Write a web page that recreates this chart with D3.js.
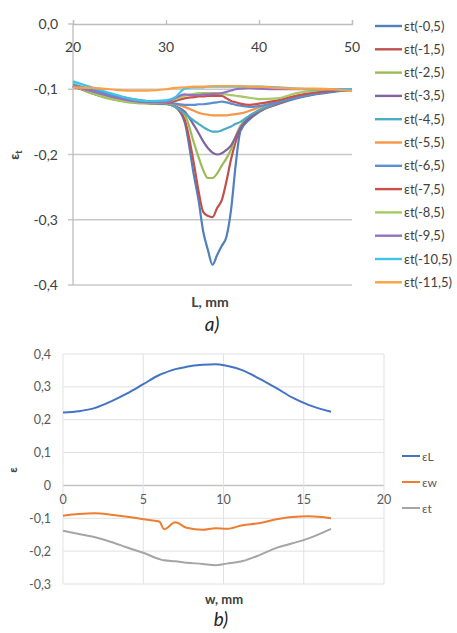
<!DOCTYPE html>
<html>
<head>
<meta charset="utf-8">
<script src="https://cdn.jsdelivr.net/npm/d3@7"></script>
<style>
  body { margin: 0; background: #fff; }
  svg { display: block; font-family: Lato, "Open Sans", sans-serif; }
</style>
</head>
<body>
<div id="viz"></div>
<script>
// --- chart a): transverse strain along L for several depths ---
var posL = [20, 22, 24, 26, 28, 30, 31, 32, 33, 33.5, 34, 34.5, 35, 35.5, 36, 36.5, 37, 37.5, 38, 39, 40, 42, 44, 46, 48, 50];

var et05  = [-0.096, -0.103, -0.112, -0.118, -0.121, -0.122, -0.127, -0.150, -0.232, -0.270, -0.318, -0.346, -0.369, -0.354, -0.340, -0.326, -0.284, -0.215, -0.164, -0.146, -0.135, -0.123, -0.114, -0.108, -0.104, -0.101];
var et15  = [-0.095, -0.106, -0.114, -0.119, -0.121, -0.122, -0.127, -0.146, -0.214, -0.256, -0.288, -0.294, -0.296, -0.282, -0.270, -0.241, -0.207, -0.180, -0.159, -0.144, -0.134, -0.122, -0.113, -0.107, -0.103, -0.101];
var et25  = [-0.095, -0.106, -0.115, -0.120, -0.122, -0.123, -0.127, -0.138, -0.182, -0.204, -0.224, -0.236, -0.236, -0.229, -0.217, -0.206, -0.192, -0.172, -0.156, -0.142, -0.133, -0.121, -0.112, -0.106, -0.102, -0.100];
var et35  = [-0.096, -0.104, -0.112, -0.118, -0.121, -0.122, -0.126, -0.134, -0.155, -0.167, -0.180, -0.190, -0.197, -0.200, -0.198, -0.193, -0.186, -0.173, -0.159, -0.143, -0.133, -0.121, -0.112, -0.106, -0.102, -0.101];
var et45  = [-0.092, -0.101, -0.110, -0.116, -0.120, -0.122, -0.127, -0.137, -0.148, -0.153, -0.158, -0.162, -0.165, -0.165, -0.163, -0.160, -0.157, -0.153, -0.150, -0.140, -0.132, -0.120, -0.111, -0.105, -0.102, -0.100];
var et55  = [-0.095, -0.100, -0.108, -0.115, -0.119, -0.121, -0.123, -0.127, -0.133, -0.136, -0.138, -0.139, -0.140, -0.140, -0.140, -0.140, -0.139, -0.138, -0.137, -0.133, -0.128, -0.118, -0.110, -0.105, -0.102, -0.101];
var et65  = [-0.094, -0.100, -0.108, -0.114, -0.118, -0.120, -0.122, -0.124, -0.124, -0.123, -0.123, -0.122, -0.121, -0.120, -0.119, -0.120, -0.122, -0.124, -0.125, -0.127, -0.126, -0.120, -0.113, -0.107, -0.103, -0.101];
var et75  = [-0.096, -0.104, -0.112, -0.117, -0.120, -0.121, -0.118, -0.114, -0.112, -0.111, -0.111, -0.110, -0.110, -0.110, -0.110, -0.114, -0.118, -0.120, -0.122, -0.124, -0.122, -0.117, -0.110, -0.105, -0.102, -0.100];
var et85  = [-0.095, -0.105, -0.114, -0.119, -0.121, -0.120, -0.115, -0.110, -0.107, -0.106, -0.106, -0.106, -0.106, -0.106, -0.107, -0.108, -0.109, -0.110, -0.111, -0.113, -0.115, -0.114, -0.106, -0.102, -0.100, -0.100];
var et95  = [-0.095, -0.103, -0.111, -0.117, -0.120, -0.120, -0.113, -0.108, -0.109, -0.109, -0.108, -0.108, -0.107, -0.107, -0.106, -0.104, -0.102, -0.100, -0.099, -0.098, -0.099, -0.100, -0.100, -0.100, -0.100, -0.100];
var et105 = [-0.088, -0.097, -0.106, -0.114, -0.118, -0.117, -0.112, -0.099, -0.097, -0.097, -0.097, -0.096, -0.096, -0.096, -0.096, -0.096, -0.096, -0.096, -0.096, -0.096, -0.096, -0.097, -0.099, -0.100, -0.100, -0.100];
var et115 = [-0.097, -0.098, -0.100, -0.102, -0.102, -0.100, -0.098, -0.097, -0.096, -0.096, -0.096, -0.096, -0.095, -0.095, -0.095, -0.095, -0.095, -0.095, -0.095, -0.096, -0.096, -0.098, -0.099, -0.099, -0.100, -0.103];

var namesA = ['εt(-0,5)', 'εt(-1,5)', 'εt(-2,5)', 'εt(-3,5)', 'εt(-4,5)', 'εt(-5,5)',
              'εt(-6,5)', 'εt(-7,5)', 'εt(-8,5)', 'εt(-9,5)', 'εt(-10,5)', 'εt(-11,5)'];
var valuesA = [et05, et15, et25, et35, et45, et55, et65, et75, et85, et95, et105, et115];
var colorsA = ['#4f81bd', '#c0504d', '#9bbb59', '#8064a2', '#4bacc6', '#f79646',
               '#5b8fd3', '#cc4f4c', '#a6c865', '#9273c2', '#40c3e8', '#ffa143'];
var ticksAx = [20, 30, 40, 50];
var ticksAy = [0, -0.1, -0.2, -0.3, -0.4];

// --- chart b): strains across the width ---
var posW = [0, 1, 2, 3, 4, 5, 6, 6.3, 7, 7.7, 8.7, 9.5, 10.2, 11.2, 12.2, 13.3, 14.3, 15.3, 16.7];
var epsL = [0.222, 0.226, 0.236, 0.256, 0.280, 0.308, 0.336, 0.342, 0.354, 0.361, 0.367, 0.369, 0.364, 0.350, 0.326, 0.296, 0.267, 0.245, 0.224];
var epsW = [-0.092, -0.087, -0.085, -0.089, -0.095, -0.103, -0.110, -0.133, -0.112, -0.129, -0.135, -0.130, -0.132, -0.121, -0.115, -0.103, -0.096, -0.094, -0.100];
var epsT = [-0.138, -0.148, -0.158, -0.172, -0.189, -0.205, -0.224, -0.228, -0.231, -0.235, -0.239, -0.243, -0.238, -0.230, -0.213, -0.190, -0.176, -0.161, -0.132];
var namesB = ['εL', 'εw', 'εt'];
var valuesB = [epsL, epsW, epsT];
var colorsB = ['#4472c4', '#ed7d31', '#a5a5a5'];
var ticksBx = [0, 5, 10, 15, 20];
var ticksBy = [0.4, 0.3, 0.2, 0.1, 0, -0.1, -0.2, -0.3];

var fmt = function(v) { return d3.format('.1f')(v).replace('.', ',').replace('−', '-'); };

var svg = d3.select('#viz').append('svg')
  .attr('width', 457)
  .attr('height', 633);

// ================= chart a) =================
var xA = d3.scaleLinear().domain([20, 50]).range([73, 352]);
var yA = d3.scaleLinear().domain([0, -0.4]).range([24, 285]);

var gA = svg.append('g');

// horizontal gridlines below the top axis
gA.selectAll('line.grid')
  .data(ticksAy.slice(1))
  .enter().append('line')
  .attr('class', 'grid')
  .attr('x1', xA(20) - 5).attr('x2', xA(50))
  .attr('y1', function(d) { return yA(d); })
  .attr('y2', function(d) { return yA(d); })
  .attr('stroke', '#c8c8c8').attr('stroke-width', 1.3);

// left axis
gA.append('line')
  .attr('x1', xA(20)).attr('x2', xA(20))
  .attr('y1', yA(0)).attr('y2', yA(-0.4))
  .attr('stroke', '#bdbdbd').attr('stroke-width', 1.3);

// top axis with ticks pointing up
var axTop = d3.axisTop(xA).tickValues(ticksAx).tickSize(4).tickFormat('');
gA.append('g')
  .attr('transform', 'translate(0,' + yA(0) + ')')
  .call(axTop)
  .call(function(g) {
    g.select('.domain').attr('stroke', '#bdbdbd').attr('stroke-width', 1.3);
    g.selectAll('.tick line').attr('stroke', '#bdbdbd').attr('stroke-width', 1.3);
  });
gA.append('line')
  .attr('x1', xA(20) - 5).attr('x2', xA(20))
  .attr('y1', yA(0)).attr('y2', yA(0))
  .attr('stroke', '#bdbdbd').attr('stroke-width', 1.3);

gA.selectAll('text.xl')
  .data(ticksAx)
  .enter().append('text')
  .attr('x', function(d) { return xA(d); })
  .attr('y', 52)
  .attr('text-anchor', 'middle')
  .attr('font-size', 14)
  .attr('fill', '#404040')
  .text(function(d) { return d; });

gA.selectAll('text.yl')
  .data(ticksAy)
  .enter().append('text')
  .attr('x', 58)
  .attr('y', function(d) { return yA(d) + 5; })
  .attr('text-anchor', 'end')
  .attr('font-size', 14)
  .attr('fill', '#404040')
  .text(fmt);

var lineA = d3.line()
  .x(function(d, i) { return xA(posL[i]); })
  .y(function(d) { return yA(d); })
  .curve(d3.curveMonotoneX);

gA.selectAll('path.series')
  .data(valuesA)
  .enter().append('path')
  .attr('class', 'series')
  .attr('d', lineA)
  .attr('fill', 'none')
  .attr('stroke', function(d, i) { return colorsA[i]; })
  .attr('stroke-width', 2.2)
  .attr('stroke-linejoin', 'round');

// legend
var legA = gA.selectAll('g.leg')
  .data(namesA)
  .enter().append('g')
  .attr('transform', function(d, i) { return 'translate(375,' + (26 + i * 23.3) + ')'; });
legA.append('line')
  .attr('x1', 0).attr('x2', 27)
  .attr('stroke', function(d, i) { return colorsA[i]; })
  .attr('stroke-width', 2.4);
legA.append('text')
  .attr('x', 29).attr('y', 4.5)
  .attr('font-size', 13)
  .attr('fill', '#404040')
  .text(function(d) { return d; });

// axis titles
gA.append('text')
  .attr('transform', 'translate(19,155) rotate(-90)')
  .attr('text-anchor', 'middle')
  .attr('font-size', 13)
  .attr('font-weight', 'bold')
  .attr('fill', '#404040')
  .html('ε<tspan font-size="10" dy="3">t</tspan>');

gA.append('text')
  .attr('x', 210).attr('y', 307)
  .attr('text-anchor', 'middle')
  .attr('font-size', 14)
  .attr('font-weight', 'bold')
  .attr('fill', '#404040')
  .text('L, mm');

svg.append('text')
  .attr('x', 212).attr('y', 331)
  .attr('text-anchor', 'middle')
  .attr('font-size', 19)
  .attr('font-style', 'italic')
  .attr('fill', '#222')
  .text('a)');

// ================= chart b) =================
var xB = d3.scaleLinear().domain([0, 20]).range([63, 384]);
var yB = d3.scaleLinear().domain([-0.3, 0.4]).range([584, 354]);

var gB = svg.append('g');

gB.selectAll('line.hg')
  .data(ticksBy)
  .enter().append('line')
  .attr('x1', xB(0)).attr('x2', xB(20))
  .attr('y1', function(d) { return yB(d); })
  .attr('y2', function(d) { return yB(d); })
  .attr('stroke', function(d) { return d === 0 ? '#c4c4c4' : '#e1e1e1'; })
  .attr('stroke-width', function(d) { return d === 0 ? 1.4 : 1; });

gB.selectAll('line.vg')
  .data(ticksBx)
  .enter().append('line')
  .attr('x1', function(d) { return xB(d); })
  .attr('x2', function(d) { return xB(d); })
  .attr('y1', yB(0.4)).attr('y2', yB(-0.3))
  .attr('stroke', '#e1e1e1').attr('stroke-width', 1);

gB.selectAll('text.xl')
  .data(ticksBx)
  .enter().append('text')
  .attr('x', function(d) { return xB(d); })
  .attr('y', yB(0) + 19)
  .attr('text-anchor', 'middle')
  .attr('font-size', 12.5)
  .attr('fill', '#595959')
  .text(function(d) { return d; });

gB.selectAll('text.yl')
  .data(ticksBy)
  .enter().append('text')
  .attr('x', 51)
  .attr('y', function(d) { return yB(d) + 4.5; })
  .attr('text-anchor', 'end')
  .attr('font-size', 12.5)
  .attr('fill', '#595959')
  .text(function(d) { return d === 0 ? '0' : fmt(d); });

var lineB = d3.line()
  .x(function(d, i) { return xB(posW[i]); })
  .y(function(d) { return yB(d); })
  .curve(d3.curveMonotoneX);

gB.selectAll('path.series')
  .data(valuesB)
  .enter().append('path')
  .attr('d', lineB)
  .attr('fill', 'none')
  .attr('stroke', function(d, i) { return colorsB[i]; })
  .attr('stroke-width', 2)
  .attr('stroke-linejoin', 'round');

var legB = gB.selectAll('g.leg')
  .data(namesB)
  .enter().append('g')
  .attr('transform', function(d, i) { return 'translate(402,' + (456 + i * 26) + ')'; });
legB.append('line')
  .attr('x1', 0).attr('x2', 18)
  .attr('stroke', function(d, i) { return colorsB[i]; })
  .attr('stroke-width', 2);
legB.append('text')
  .attr('x', 20).attr('y', 4.5)
  .attr('font-size', 12)
  .attr('fill', '#595959')
  .text(function(d) { return d; });

gB.append('text')
  .attr('transform', 'translate(17,470) rotate(-90)')
  .attr('text-anchor', 'middle')
  .attr('font-size', 12)
  .attr('font-weight', 'bold')
  .attr('fill', '#404040')
  .text('ε');

gB.append('text')
  .attr('x', 224).attr('y', 604)
  .attr('text-anchor', 'middle')
  .attr('font-size', 13)
  .attr('font-weight', 'bold')
  .attr('fill', '#404040')
  .text('w, mm');

svg.append('text')
  .attr('x', 221).attr('y', 626)
  .attr('text-anchor', 'middle')
  .attr('font-size', 19)
  .attr('font-style', 'italic')
  .attr('fill', '#222')
  .text('b)');
</script>
</body>
</html>
